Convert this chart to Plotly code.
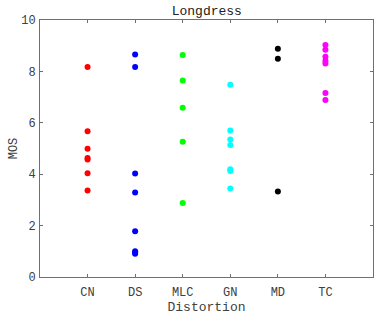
import plotly.graph_objects as go

categories = ["CN", "DS", "MLC", "GN", "MD", "TC"]
colors = ["#ff0000", "#0000ff", "#00ff00", "#00ffff", "#000000", "#ff00ff"]

cn = [8.17, 5.67, 4.99, 4.63, 4.57, 4.04, 3.37]
ds = [8.66, 8.17, 4.03, 3.29, 1.78, 1.0, 0.95, 0.9]
mlc = [8.64, 7.65, 6.59, 5.26, 2.88]
gn = [7.48, 5.70, 5.35, 5.14, 4.19, 4.12, 3.44]
md = [8.88, 8.49, 3.33]
tc = [9.03, 8.84, 8.57, 8.41, 8.31, 7.16, 6.89]

series = [cn, ds, mlc, gn, md, tc]
xpos = [1, 2, 3, 4, 5, 6]

FONT = "Liberation Mono"
fig = go.Figure()
for i, vals in enumerate(series):
    fig.add_trace(go.Scatter(
        x=[xpos[i]] * len(vals), y=vals, mode="markers",
        marker=dict(color=colors[i], size=6, line=dict(width=0)),
        showlegend=False,
    ))

axis_common = dict(
    showgrid=False, zeroline=False, showline=True, linecolor="#707070", linewidth=1,
    mirror="ticks", ticks="inside", ticklen=3, tickcolor="#707070",
    tickfont=dict(family=FONT, size=12, color="#404040"),
)
fig.update_layout(
    width=374, height=315,
    margin=dict(l=40, r=1, t=20, b=38),
    paper_bgcolor="white", plot_bgcolor="white",
    title=dict(text="Longdress", x=0.553, xanchor="center", y=0.968, yanchor="middle",
               font=dict(family=FONT, size=13, color="#202020")),
    xaxis=dict(range=[0, 7], tickvals=xpos, ticktext=categories,
               title=dict(text="Distortion", font=dict(family=FONT, size=13, color="#404040"), standoff=0),
               ticklabelstandoff=4, **axis_common),
    yaxis=dict(range=[0, 10], tickvals=[0, 2, 4, 6, 8, 10],
               title=dict(text="MOS", font=dict(family=FONT, size=12, color="#404040"), standoff=0),
               ticklabelstandoff=1, **axis_common),
)
fig.write_html("out.html", config={"displayModeBar": False},
               post_script="document.body.style.margin='0';document.body.style.overflow='hidden';")
